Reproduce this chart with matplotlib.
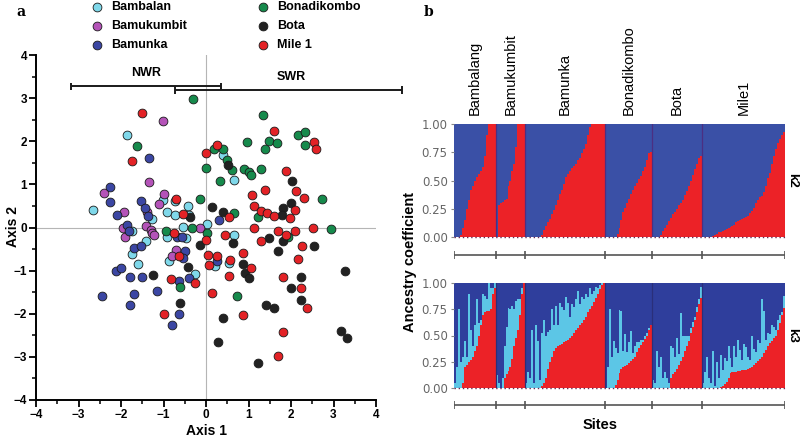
import matplotlib
matplotlib.use("Agg")
import matplotlib.pyplot as plt
import numpy as np
from matplotlib.ticker import MultipleLocator
from matplotlib.transforms import blended_transform_factory

plt.rcParams['font.family'] = ['Liberation Sans', 'DejaVu Sans']

# ---------------- Panel a data (PCoA) ----------------
pops = ["Bambalan", "Bamukumbit", "Bamunka", "Bonadikombo", "Bota", "Mile 1"]
pop_colors = ["#7fd8ea", "#b453b8", "#3b46a3", "#168a4c", "#222222", "#e32226"]

bambalan_x = [-1.87, 0.41, 0.67, -2.66, -1.02, -0.72, -0.42, -0.39, -0.91, -0.72, -1.27, -1.75,
              -0.54, 0.02, 0.65, -1.41, -1.73, -0.91, -0.48, -0.87, 0.22, 0.55, -1.60, -0.25]
bambalan_y = [2.15, 1.68, 1.10, 0.41, 0.64, 0.62, 0.50, 0.29, 0.35, 0.28, 0.20, -0.09,
              0.01, 0.08, -0.17, -0.32, -0.61, -0.21, -0.25, -0.77, -0.90, -0.82, -0.85, -1.08]
bamukumbit_x = [-1.01, -1.34, -2.40, -0.99, -1.93, -1.38, -1.11, -1.95, -1.91, -1.41, -1.30,
                -1.27, -1.23, -0.13, -0.70, -0.81]
bamukumbit_y = [2.46, 1.06, 0.81, 0.78, 0.36, 0.35, 0.54, -0.02, -0.21, 0.04, -0.05,
                -0.13, -0.18, 0.00, -0.53, -0.67]
bamunka_x = [-1.33, -2.26, -2.26, -2.09, -1.54, -1.44, -1.36, -1.85, -1.81, 0.30, -0.68, -0.56,
             -1.70, -1.52, -0.50, -0.54, 0.26, -2.12, -2.01, -1.79, -1.50, -2.45, -1.70, -1.79,
             -1.15, -0.64, -0.39, -0.64, -0.81]
bamunka_y = [1.62, 0.95, 0.58, 0.28, 0.62, 0.46, 0.27, 0.06, -0.07, 0.18, -0.21, -0.21,
             -0.48, -0.44, -0.55, -0.71, -0.78, -1.00, -0.95, -1.15, -1.14, -1.58, -1.54, -1.79,
             -1.47, -1.25, -1.18, -2.00, -2.25]
bonadikombo_x = [-0.30, -1.62, 1.35, 0.96, 1.49, 1.66, 1.39, 2.16, 2.32, 2.34, 0.18, 0.41, 0.00,
                 0.49, 0.61, 0.90, 1.00, 1.05, 1.29, 0.34, -0.13, 2.72, 2.95, 0.65, 1.23, -0.33,
                 0.02, -0.94, 1.94, -0.62, 0.73]
bonadikombo_y = [2.98, 1.88, 2.62, 1.99, 2.01, 1.97, 1.82, 2.15, 2.21, 1.92, 1.82, 1.81, 1.39,
                 1.56, 1.33, 1.35, 1.29, 1.22, 1.35, 1.08, 0.66, 0.66, -0.04, 0.33, 0.24, 0.00,
                 -0.12, -0.08, -0.22, -1.37, -1.58]
bota_x = [0.52, 2.03, 2.00, 1.82, 1.78, 0.13, 0.41, -0.37, -0.13, 0.63, 1.48, 1.70, 1.82, 2.55,
          3.27, 0.88, 0.91, 1.00, 2.23, 2.00, 2.23, 1.41, 1.61, 0.40, 0.28, 1.22, 3.17, 3.32,
          -0.62, -1.24, -0.42]
bota_y = [1.45, 1.08, 0.56, 0.45, 0.29, 0.47, 0.35, 0.25, -0.40, -0.36, -0.24, -0.55, -0.32, -0.42,
          -1.02, -0.85, -1.06, -1.18, -1.15, -1.41, -1.68, -1.79, -1.87, -2.10, -2.66, -3.15, -2.41,
          -2.57, -1.75, -1.11, -0.92]
mile1_x = [-1.50, -1.75, 0.26, 0.00, 1.59, 2.55, 2.59, 1.88, 1.38, 2.12, 2.31, 1.09, 1.12, 1.30,
           1.43, 1.59, 2.10, 1.98, 0.54, 1.14, 1.69, 2.52, 2.09, 1.29, 1.88, 2.27, 2.16, 0.86,
           0.44, 0.00, 0.05, 0.26, 0.57, -0.54, -0.70, -0.76, -0.64, -0.82, -0.99, -0.27, 0.13,
           0.55, 0.88, 1.05, 1.82, 2.23, 2.38, 1.80, 1.69, 0.08]
mile1_y = [2.65, 1.55, 1.91, 1.72, 2.24, 1.98, 1.83, 1.32, 0.88, 0.85, 0.69, 0.75, 0.51, 0.38,
           0.33, 0.27, 0.41, 0.22, 0.24, -0.02, -0.08, -0.02, -0.09, -0.31, -0.17, -0.42, -0.72,
           -0.59, -0.18, -0.28, -0.63, -0.67, -0.75, 0.31, 0.65, -0.13, -0.67, -1.19, -2.00, -1.28,
           -1.52, -1.12, -2.02, -0.95, -1.14, -1.41, -1.87, -2.42, -2.98, -0.87]

scatter_x = [bambalan_x, bamukumbit_x, bamunka_x, bonadikombo_x, bota_x, mile1_x]
scatter_y = [bambalan_y, bamukumbit_y, bamunka_y, bonadikombo_y, bota_y, mile1_y]

region_names = ["NWR", "SWR"]
region_start = [-3.18, -0.73]
region_end = [0.35, 4.62]
region_y = [3.27, 3.18]

# ---------------- Panel b data (ancestry) ----------------
sites = ["Bambalang", "Bamukumbit", "Bamunka", "Bonadikombo", "Bota", "Mile1"]

k2_red = [
    [0, 0, 0, 0.02, 0.08, 0.15, 0.25, 0.33, 0.42, 0.45, 0.50, 0.53, 0.56, 0.58, 0.62, 0.72, 0.90,
     1, 1, 1, 1],
    [0, 0.28, 0.30, 0.31, 0.33, 0.34, 0.45, 0.50, 0.58, 0.65, 0.80, 1, 1, 1, 1],
    [0, 0, 0, 0, 0, 0, 0, 0, 0.02, 0.06, 0.10, 0.13, 0.16, 0.20, 0.24, 0.28, 0.33, 0.38, 0.42,
     0.47, 0.53, 0.56, 0.58, 0.61, 0.63, 0.65, 0.68, 0.70, 0.74, 0.78, 0.82, 0.90, 0.97, 1, 1, 1,
     1, 1, 1, 1],
    [0, 0, 0, 0, 0, 0, 0.03, 0.08, 0.15, 0.22, 0.26, 0.30, 0.34, 0.38, 0.42, 0.45, 0.48, 0.51,
     0.54, 0.58, 0.62, 0.68, 0.74, 0.75],
    [0, 0, 0, 0, 0.02, 0.05, 0.08, 0.11, 0.14, 0.17, 0.20, 0.22, 0.25, 0.28, 0.30, 0.33, 0.37,
     0.41, 0.45, 0.50, 0.55, 0.60, 0.65, 0.70, 0.72],
    [0, 0, 0, 0, 0, 0.01, 0.02, 0.03, 0.04, 0.04, 0.05, 0.06, 0.07, 0.08, 0.09, 0.10, 0.11, 0.13,
     0.14, 0.15, 0.16, 0.17, 0.18, 0.19, 0.21, 0.23, 0.26, 0.30, 0.33, 0.35, 0.36, 0.40, 0.45,
     0.52, 0.57, 0.65, 0.72, 0.78, 0.83, 0.87, 0.90, 0.93],
]

k3_red = [
    [0, 0, 0, 0, 0.05, 0.20, 0.22, 0.25, 0.27, 0.30, 0.35, 0.40, 0.50, 0.60, 0.70, 0.72, 0.73,
     0.73, 0.75, 0.90, 0.95],
    [0, 0, 0, 0, 0.10, 0.13, 0.16, 0.20, 0.28, 0.40, 0.48, 0.55, 0.70, 0.90, 1.0],
    [0, 0, 0, 0, 0, 0, 0, 0, 0.02, 0.05, 0.10, 0.18, 0.25, 0.30, 0.35, 0.38, 0.40, 0.41, 0.42,
     0.44, 0.45, 0.46, 0.48, 0.50, 0.52, 0.55, 0.57, 0.60, 0.62, 0.65, 0.68, 0.72, 0.75, 0.78,
     0.82, 0.86, 0.90, 0.94, 0.98, 1.0],
    [0, 0, 0, 0, 0, 0.03, 0.08, 0.14, 0.18, 0.20, 0.21, 0.22, 0.24, 0.26, 0.28, 0.30, 0.34, 0.38,
     0.41, 0.44, 0.47, 0.50, 0.55, 0.60],
    [0, 0, 0, 0, 0, 0, 0, 0, 0, 0.10, 0.13, 0.15, 0.18, 0.22, 0.26, 0.30, 0.35, 0.40, 0.45, 0.52,
     0.58, 0.65, 0.72, 0.80, 0.86],
    [0, 0, 0, 0, 0, 0, 0, 0, 0, 0.01, 0.02, 0.04, 0.06, 0.10, 0.14, 0.15, 0.15, 0.15, 0.16, 0.16,
     0.17, 0.17, 0.17, 0.18, 0.19, 0.20, 0.22, 0.24, 0.26, 0.28, 0.30, 0.33, 0.36, 0.40, 0.43,
     0.45, 0.48, 0.50, 0.55, 0.62, 0.70, 0.76],
]

k3_cyan = [
    [0.05, 0.20, 0.75, 0.25, 0.25, 0.25, 0.08, 0.65, 0.28, 0.10, 0.25, 0.45, 0.12, 0.05, 0.20,
     0.16, 0.12, 0.27, 0.20, 0.05, 0.05],
    [0.12, 0.05, 0.0, 0.10, 0.30, 0.45, 0.60, 0.55, 0.50, 0.35, 0.35, 0.30, 0.15, 0.05, 0.0],
    [0.05, 0.15, 0.10, 0.55, 0.05, 0.60, 0.45, 0.08, 0.50, 0.60, 0.40, 0.35, 0.30, 0.45, 0.25,
     0.40, 0.20, 0.40, 0.35, 0.30, 0.42, 0.35, 0.20, 0.30, 0.25, 0.30, 0.35, 0.20, 0.25, 0.20,
     0.22, 0.15, 0.20, 0.12, 0.10, 0.10, 0.05, 0.04, 0.02, 0.0],
    [0.0, 0.20, 0.75, 0.30, 0.45, 0.35, 0.25, 0.60, 0.55, 0.15, 0.30, 0.12, 0.20, 0.28, 0.05,
     0.10, 0.10, 0.06, 0.05, 0.02, 0.03, 0.02, 0.02, 0.0],
    [0.08, 0.05, 0.35, 0.20, 0.30, 0.10, 0.15, 0.10, 0.05, 0.30, 0.25, 0.15, 0.30, 0.10, 0.45,
     0.20, 0.15, 0.10, 0.05, 0.05, 0.05, 0.03, 0.05, 0.05, 0.10],
    [0.05, 0.15, 0.30, 0.10, 0.05, 0.35, 0.02, 0.25, 0.10, 0.30, 0.15, 0.25, 0.20, 0.30, 0.15,
     0.05, 0.25, 0.15, 0.30, 0.20, 0.10, 0.25, 0.22, 0.12, 0.08, 0.30, 0.15, 0.10, 0.20, 0.15,
     0.55, 0.40, 0.10, 0.12, 0.08, 0.15, 0.10, 0.05, 0.10, 0.08, 0.02, 0.12],
]

yticks_b = [0.0, 0.25, 0.5, 0.75, 1.0]

RED = "#ec2227"
BLUE2 = "#3a50a6"
BLUE3 = "#2f3e9c"
CYAN = "#5cc6e6"

W, H = 800, 443
fig = plt.figure(figsize=(W / 100, H / 100), dpi=100)

def fx(px):
    return px / W

def fy(py):
    return 1 - py / H

# ---------------- Panel a ----------------
axa = fig.add_axes([fx(36), fy(400), fx(376) - fx(36), fy(55) - fy(400)])
handles = []
for name, col, xs, ys in zip(pops, pop_colors, scatter_x, scatter_y):
    h = axa.scatter(xs, ys, s=40, c=col, edgecolors="#1a1a1a", linewidths=0.6, zorder=3, label=name)
    handles.append(h)
axa.axhline(0, color="#b5b5b5", lw=0.8, zorder=1)
axa.axvline(0, color="#b5b5b5", lw=0.8, zorder=1)
axa.set_xlim(-4, 4)
axa.set_ylim(-4, 4)
for s in ["top", "right"]:
    axa.spines[s].set_visible(False)
for s in ["left", "bottom"]:
    axa.spines[s].set_linewidth(1.4)
axa.xaxis.set_major_locator(MultipleLocator(1))
axa.yaxis.set_major_locator(MultipleLocator(1))
axa.xaxis.set_minor_locator(MultipleLocator(0.5))
axa.yaxis.set_minor_locator(MultipleLocator(0.5))
axa.tick_params(which="major", length=5, width=1.3, labelsize=8.5, pad=1.5)
axa.tick_params(which="minor", length=3, width=1.1)
for lab in axa.get_xticklabels() + axa.get_yticklabels():
    lab.set_fontweight("bold")
axa.set_xlabel("Axis 1", fontsize=10, fontweight="bold", labelpad=2)
fig.text(fx(13), fy(227), "Axis 2", rotation=90, ha="center", va="center", fontsize=10,
         fontweight="bold")

for name, x0, x1, y in zip(region_names, region_start, region_end, region_y):
    axa.hlines(y, x0, x1, color="#1a1a1a", lw=1.4, clip_on=False, zorder=4)
    axa.vlines([x0, x1], y - 0.09, y + 0.09, color="#1a1a1a", lw=1.4, clip_on=False, zorder=4)
axa.text(-1.4, 3.45, region_names[0], ha="center", va="bottom", fontsize=9, fontweight="bold")
axa.text(2.0, 3.35, region_names[1], ha="center", va="bottom", fontsize=9, fontweight="bold")

leg = fig.legend(handles=handles, ncol=2, loc="upper left", bbox_to_anchor=(fx(92), fy(1)),
                 frameon=False, handlelength=0.8, handletextpad=0.7, labelspacing=0.58,
                 columnspacing=5.7, prop={"weight": "bold", "size": 9}, scatterpoints=1,
                 borderaxespad=0, borderpad=0)

fig.text(fx(16), fy(12), "a", fontsize=10, fontweight="bold", family="DejaVu Serif", va="center")
fig.text(fx(424), fy(12), "b", fontsize=10, fontweight="bold", family="DejaVu Serif", va="center")

# ---------------- Panel b ----------------
counts = [len(g) for g in k2_red]
N = sum(counts)
bounds = np.concatenate([[0], np.cumsum(counts)]) - 0.5
centers = [(bounds[i] + bounds[i + 1]) / 2 for i in range(len(counts))]

r2 = np.concatenate([np.array(g, float) for g in k2_red])
r3 = np.concatenate([np.array(g, float) for g in k3_red])
c3 = np.concatenate([np.array(g, float) for g in k3_cyan])
idx = np.arange(N)

left_b = fx(454)
width_b = fx(785) - fx(454)

ax2 = fig.add_axes([left_b, fy(237), width_b, fy(124) - fy(237)])
ax2.bar(idx, r2, width=1.0, color=RED, linewidth=0)
ax2.bar(idx, 1 - r2, bottom=r2, width=1.0, color=BLUE2, linewidth=0)
for b in bounds[1:-1]:
    ax2.axvline(b, color="#4b2f82", lw=0.9)

ax3 = fig.add_axes([left_b, fy(388), width_b, fy(283) - fy(388)])
ax3.bar(idx, r3, width=1.0, color=RED, linewidth=0)
ax3.bar(idx, c3, bottom=r3, width=1.0, color=CYAN, linewidth=0)
ax3.bar(idx, 1 - r3 - c3, bottom=r3 + c3, width=1.0, color=BLUE3, linewidth=0)
for b in bounds[1:-1]:
    ax3.axvline(b, color="#2a2f7a", lw=0.9)

for ax, lab in [(ax2, "k2"), (ax3, "k3")]:
    ax.set_xlim(-0.5, N - 0.5)
    ax.set_ylim(0, 1)
    ax.set_xticks([])
    ax.set_yticks(yticks_b)
    ax.set_yticklabels([f"{v:.2f}" for v in yticks_b])
    ax.tick_params(axis="y", length=2.5, color="#888888", labelcolor="#666666", labelsize=8.5,
                   pad=2)
    for lbl in ax.get_yticklabels():
        lbl.set_family("DejaVu Sans")
    for s in ax.spines.values():
        s.set_visible(False)
    ax.axhline(0, color="#6a2a55", lw=1.0, ls=(0, (1, 2)), clip_on=False, zorder=5)
    tr = blended_transform_factory(fig.transFigure, ax.transAxes)
    ax.text(fx(792), 0.5, lab, transform=tr, rotation=270, ha="center", va="center",
            fontsize=9.5, fontweight="bold")

# site brackets
for ypx in [255, 405]:
    axb = fig.add_axes([left_b, fy(ypx + 5), width_b, fy(ypx - 5) - fy(ypx + 5)])
    axb.set_xlim(-0.5, N - 0.5)
    axb.set_ylim(-1, 1)
    axb.hlines(0, bounds[0], bounds[-1], color="#555555", lw=1.2)
    axb.vlines(bounds, -0.8, 0.8, color="#555555", lw=1.2)
    axb.axis("off")

for c, name in zip(centers, sites):
    ax2.text(c, 1.0 + 9 / 113, name, rotation=90, ha="center", va="bottom", fontsize=10.5,
             transform=ax2.transData)

fig.text(fx(410), fy(262), "Ancestry coefficient", rotation=90, ha="center", va="center",
         fontsize=10.5, fontweight="bold")
fig.text(fx(600), fy(425), "Sites", ha="center", va="center", fontsize=10.5, fontweight="bold")

fig.savefig("out.png", dpi=100)
